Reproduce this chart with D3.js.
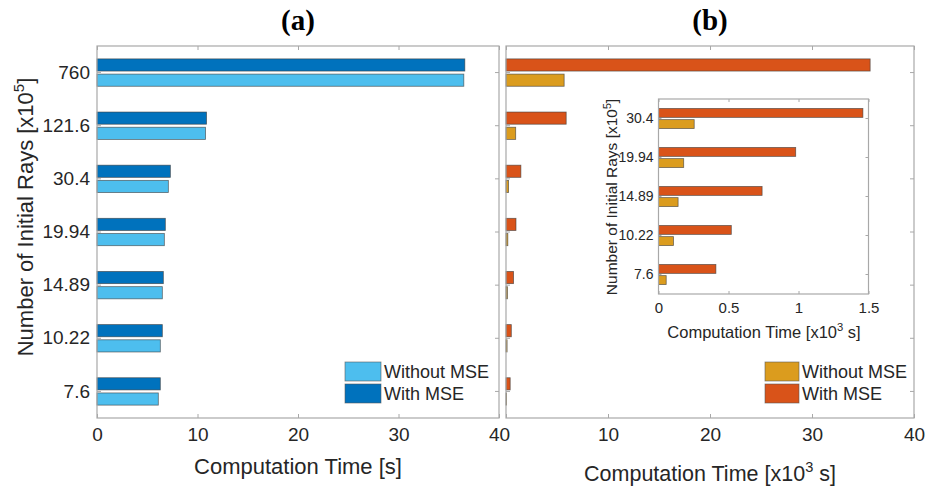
<!DOCTYPE html>
<html><head><meta charset="utf-8">
<script src="https://cdn.jsdelivr.net/npm/d3@7"></script>
<style>body{margin:0;background:#fff}svg{display:block}text{font-family:"Liberation Sans",Arial,Helvetica,sans-serif;fill:#262626}</style>
</head><body>
<svg id="c" width="927" height="488"></svg>
<script>
const categories = ["7.6","10.22","14.89","19.94","30.4","121.6","760"];
const timeA_without = [6.1,6.3,6.5,6.7,7.1,10.8,36.5];
const timeA_with    = [6.3,6.5,6.6,6.8,7.3,10.9,36.6];
const timeB_without = [0.055,0.107,0.14,0.18,0.255,0.95,5.7];
const timeB_with    = [0.41,0.52,0.74,0.98,1.46,5.9,35.7];
const insetCategories = ["7.6","10.22","14.89","19.94","30.4"];
const insetWithout = [0.055,0.107,0.14,0.18,0.255];
const insetWith    = [0.41,0.52,0.74,0.98,1.46];
const xTicksMain = [0,10,20,30,40];
const xTicksInset = [0,0.5,1,1.5];
const seriesNames = ["Without MSE","With MSE"];
const colorsA = ["#4DBEEE","#0072BD"];
const colorsB = ["#DB9C1E","#D95319"];

const SANS = '"Liberation Sans", Arial, Helvetica, sans-serif';
const SERIF = '"Liberation Serif", "Times New Roman", Times, serif';
const svg = d3.select("#c");
const boxCol = "#a8a8a8";

function panel(o){
  const g = svg.append("g");
  const x = d3.scaleLinear().domain(o.xDomain).range([o.x0,o.x1]);
  const y = d3.scaleBand().domain(o.cats).range([o.y1,o.y0]);
  const bw = y.bandwidth();
  if(o.bg) g.append("rect").attr("x",o.x0).attr("y",o.y0).attr("width",o.x1-o.x0).attr("height",o.y1-o.y0).attr("fill","#fff");
  const thick = 0.229*bw, off = 0.143*bw;
  [[o.without,o.colors[0],off],[o.with,o.colors[1],-off]].forEach(([vals,col,dy])=>{
    g.selectAll(null).data(o.cats).enter().append("rect")
      .attr("x",x(0)).attr("y",(c)=>y(c)+bw/2+dy-thick/2)
      .attr("width",(c,i)=>x(vals[i])-x(0)).attr("height",thick)
      .attr("fill",col).attr("stroke","#3a3a3a").attr("stroke-opacity",0.7).attr("stroke-width",0.8);
  });
  const tl = o.tickLen;
  const gx = g.append("g").attr("transform",`translate(0,${o.y1})`)
    .call(d3.axisBottom(x).tickValues(o.xTicks).tickSize(-tl).tickPadding(o.xPad).tickFormat(o.xFmt));
  const gxt = g.append("g").attr("transform",`translate(0,${o.y0})`)
    .call(d3.axisTop(x).tickValues(o.xTicks).tickSize(-tl).tickFormat(""));
  const gy = g.append("g").attr("transform",`translate(${o.x0},0)`)
    .call(d3.axisLeft(y).tickSize(-tl).tickPadding(o.yPad));
  const gyr = g.append("g").attr("transform",`translate(${o.x1},0)`)
    .call(d3.axisRight(y).tickSize(-tl).tickFormat(""));
  [gx,gxt,gy,gyr].forEach(a=>{a.attr("font-family",SANS);a.select(".domain").remove();a.selectAll("line").attr("stroke",boxCol);});
  gx.selectAll("text").attr("font-size",o.xTickFs).attr("fill","#262626");
  gy.selectAll("text").attr("font-size",o.yTickFs).attr("fill","#262626");
  if(o.hideZero) gx.selectAll(".tick").filter(d=>d===0).select("text").remove();
  if(o.hideY) gy.selectAll(".tick text").remove();
  g.append("rect").attr("x",o.x0).attr("y",o.y0).attr("width",o.x1-o.x0).attr("height",o.y1-o.y0)
    .attr("fill","none").attr("stroke",boxCol).attr("stroke-width",1.2);
  return {g,x,y};
}

function supLabel(parts,attrs,fs){
  const t = svg.append("text").attr("font-size",fs).attr("text-anchor","middle").attr("font-family",SANS);
  Object.entries(attrs).forEach(([k,v])=>t.attr(k,v));
  t.append("tspan").text(parts[0]);
  t.append("tspan").attr("font-size",fs*0.68).attr("dy",-fs*0.42).text(parts[1]);
  t.append("tspan").attr("dy",fs*0.42).text(parts[2]);
  return t;
}

function legend(x0,tx,ys,colors,w){
  seriesNames.forEach((n,i)=>{
    svg.append("rect").attr("x",x0).attr("y",ys[i]).attr("width",w).attr("height",19)
      .attr("fill",colors[i]).attr("stroke","#555").attr("stroke-opacity",0.7).attr("stroke-width",0.8);
    svg.append("text").attr("x",tx).attr("y",ys[i]+16).attr("font-size",18).attr("font-family",SANS).text(n);
  });
}

panel({x0:97,x1:499,y0:46,y1:418,xDomain:[0,40],cats:categories,without:timeA_without,with:timeA_with,
  colors:colorsA,xTicks:xTicksMain,tickLen:4,xPad:10,yPad:7,xTickFs:19,yTickFs:19,xFmt:d3.format("d")});
panel({x0:506,x1:914,y0:46,y1:418,xDomain:[0,40],cats:categories,without:timeB_without,with:timeB_with,
  colors:colorsB,xTicks:xTicksMain,tickLen:4,xPad:10,yPad:7,xTickFs:19,yTickFs:19,xFmt:d3.format("d"),hideZero:true,hideY:true});
panel({x0:658.5,x1:868.5,y0:99,y1:294,xDomain:[0,1.5],cats:insetCategories,without:insetWithout,with:insetWith,
  colors:colorsB,xTicks:xTicksInset,tickLen:3,xPad:8,yPad:5,xTickFs:15,yTickFs:14,xFmt:d=>String(d),bg:true});

// titles
[["(a)",298],["(b)",710]].forEach(([t,x])=>{
  svg.append("text").attr("x",x).attr("y",30).attr("text-anchor","middle").attr("font-size",29)
    .attr("font-weight","bold").attr("font-family",SERIF).style("font-family",SERIF).attr("fill","#000").style("fill","#000").text(t);
});

// axis labels
svg.append("text").attr("x",298).attr("y",474).attr("text-anchor","middle").attr("font-size",22).attr("font-family",SANS).text("Computation Time [s]");
supLabel(["Computation Time [x10","3"," s]"],{x:710,y:481},21.5);
supLabel(["Number of Initial Rays [x10","5","]"],{transform:"translate(33,217) rotate(-90)"},22);
supLabel(["Computation Time [x10","3"," s]"],{x:764,y:338},16.5);
supLabel(["Number of Initial Rays [x10","5","]"],{transform:"translate(617,197) rotate(-90)"},15.5);

legend(345,384,[362,384],colorsA,36);
legend(765,802,[362,384],colorsB,34);
</script>
</body></html>
